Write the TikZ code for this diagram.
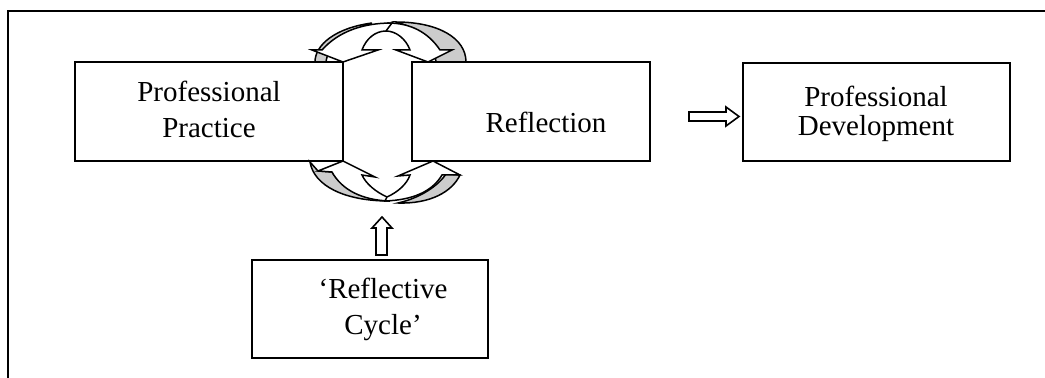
\documentclass[tikz,border=0pt]{standalone}
\usepackage{fontspec}
\setmainfont{Liberation Serif}
\definecolor{shade}{RGB}{204,204,204}
\begin{document}
\begin{tikzpicture}[x=0.5pt,y=-0.5pt,
  box/.style={draw, line width=1pt, inner sep=0pt},
  txt/.style={align=center, inner sep=0pt, font=\fontsize{14.5}{18}\selectfont},
  cw/.style={fill=white, draw, line width=0.75pt, line join=miter},
  cg/.style={fill=shade, draw, line width=0.75pt, line join=miter},
  blk/.style={fill=white, draw, line width=0.8pt, line join=miter}]
\useasboundingbox (0,0) rectangle (1045,378);
% frame
\draw[line width=1pt] (8,378) -- (8,11) -- (1045,11);
% boxes
\node[box, minimum width=134pt, minimum height=49.5pt] (pp) at (209,111.5) {};
\node[box, minimum width=119pt, minimum height=49.5pt] (rf) at (531,111.5) {};
\node[box, minimum width=133.5pt, minimum height=49pt] (pd) at (876.5,112) {};
\node[box, minimum width=118pt, minimum height=49pt] (rc) at (370,309) {};
% texts
\node[txt] (ppt) at (209,109) {Professional\\Practice};
\node[txt] (rft) at (546,122) {Reflection};
\node[txt, font=\fontsize{14.5}{14.5}\selectfont] (pdt) at (876,113.5) {Professional\\Development};
\node[txt] (rct) at (383,309.2) {‘Reflective\\Cycle’};
% top curved arrows
\path[cg] (466,62) .. controls (466,38) and (438,22) .. (396,22) .. controls (418,28) and (434,42) .. (436,62) -- cycle;
\path[cg] (315,62) .. controls (315,45) and (335,28) .. (372,23) .. controls (345,32) and (328,45) .. (326,62) -- cycle;
\path[cw] (440,50) .. controls (428,32) and (410,23) .. (388,23) -- (386,31) .. controls (396,31) and (406,39) .. (410,50) -- (396,50) -- (428,62) -- (452,50) -- cycle;
\path[cw] (322,50) .. controls (338,32) and (362,23) .. (392,23) -- (386,31) .. controls (375,31) and (366,39) .. (362,50) -- (378,50) -- (343,62) -- (312,50) -- cycle;
% bottom curved arrows
\path[cg] (310,162) .. controls (314,186) and (345,201) .. (389,201) .. controls (360,196) and (340,186) .. (332,172) -- (318,171) -- cycle;
\path[cg] (460,175) .. controls (452,192) and (430,204) .. (398,203) .. controls (420,198) and (438,186) .. (446,174) -- cycle;
\path[cw] (332,172) .. controls (342,190) and (362,200) .. (389,201) -- (387,197) .. controls (376,192) and (366,184) .. (362,175) -- (375,177) -- (343,161) -- (318,171) -- cycle;
\path[cw] (442,175) .. controls (432,192) and (412,200) .. (385,201) -- (387,197) .. controls (398,192) and (407,184) .. (410,175) -- (398,176) -- (433,161) -- (460,175) -- cycle;
% block arrows
\path[blk] (689,112) -- (726,112) -- (726,107) -- (739,116.5) -- (726,126) -- (726,121) -- (689,121) -- cycle;
\path[blk] (376,255) -- (376,228) -- (372,228) -- (382,217) -- (392,228) -- (387,228) -- (387,255) -- cycle;
\end{tikzpicture}
\end{document}
